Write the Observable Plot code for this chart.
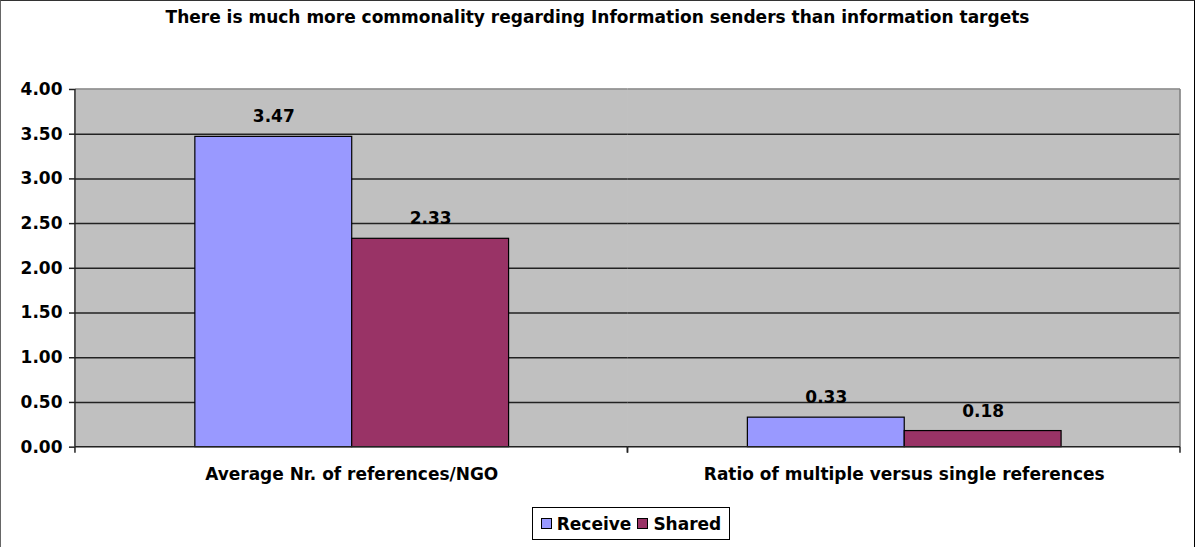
<!DOCTYPE html>
<html>
<head>
<meta charset="utf-8">
<script src="https://cdn.jsdelivr.net/npm/d3@7"></script>
<script src="https://cdn.jsdelivr.net/npm/@observablehq/plot@0.6"></script>
<style>
  html, body { margin: 0; padding: 0; background: #fff; }
  #chart {
    position: relative; width: 1195px; height: 547px; box-sizing: border-box;
    border-top: 1px solid #333; border-left: 1px solid #666; border-right: 1px solid #000;
    font-family: "DejaVu Sans", Verdana, sans-serif; font-weight: bold;
  }
  #title { position: absolute; top: 6px; left: 0; width: 1193px; text-align: center; font-size: 17px; color: #000; }
  #plot { position: absolute; top: 59px; left: -1px; }
  #legend {
    position: absolute; left: 531px; top: 506px; width: 198px; height: 33px; box-sizing: border-box;
    border: 1px solid #000; display: flex; align-items: center; justify-content: center; gap: 6px; font-size: 17px;
  }
  #legend .item { display: flex; align-items: center; gap: 5px; }
  #legend .sw { width: 9px; height: 9px; border: 1px solid #000; }
</style>
</head>
<body>
<div id="chart">
  <div id="title"></div>
  <div id="plot"></div>
  <div id="legend"></div>
</div>
<script>
const title = "There is much more commonality regarding Information senders than information targets";
const categories = ["Average Nr. of references/NGO", "Ratio of multiple versus single references"];
const seriesNames = ["Receive", "Shared"];
const receiveValues = [3.47, 0.33];
const sharedValues = [2.33, 0.18];
const yTicks = [0, 0.5, 1, 1.5, 2, 2.5, 3, 3.5, 4];
const colors = ["#9999FF", "#993366"];

const rows = categories.flatMap((c, i) => [
  {category: c, series: seriesNames[0], value: receiveValues[i]},
  {category: c, series: seriesNames[1], value: sharedValues[i]}
]);

document.getElementById("title").textContent = title;

// Per-category frame pieces: top border, baseline, boundary ticks,
// the left axis line in the first panel and the right border in the last.
function panelLines(index, scales, values, dimensions) {
  const {height, marginTop, marginBottom} = dimensions;
  const [x0, x1] = scales.x.range();
  const bottom = height - marginBottom;
  const i = index[0];
  const g = d3.create("svg:g");
  const line = (xa, xb, ya, yb, color) => g.append("line")
    .attr("x1", xa).attr("x2", xb).attr("y1", ya).attr("y2", yb)
    .attr("stroke", color).attr("stroke-width", 1.5);
  line(x0, x1, marginTop, marginTop, "#808080");
  if (i === categories.length - 1) line(x1, x1, marginTop, bottom, "#808080");
  if (i === 0) line(x0, x0, marginTop, bottom, "#222");
  line(x0, x1, bottom, bottom, "#222");
  line(x0, x0, bottom, bottom + 6, "#222");
  line(x1, x1, bottom, bottom + 6, "#222");
  return g.node();
}

const plot = Plot.plot({
  width: 1195,
  height: 430,
  marginLeft: 75,
  marginRight: 14,
  marginTop: 29,
  marginBottom: 43,
  style: {fontFamily: "'DejaVu Sans', Verdana, sans-serif", fontWeight: "bold", fontSize: "17px", color: "#000", overflow: "visible"},
  fx: {domain: categories, padding: 0, label: null},
  x: {domain: seriesNames, paddingInner: 0, paddingOuter: 0.755, axis: null},
  y: {domain: [0, 4], label: null},
  color: {domain: seriesNames, range: colors},
  marks: [
    Plot.frame({fill: "#C0C0C0", stroke: "none"}),
    Plot.gridY(yTicks.slice(1, -1), {stroke: "#222", strokeOpacity: 1, strokeWidth: 1.5}),
    Plot.axisY(yTicks, {tickFormat: d3.format(".2f"), tickSize: 6, tickPadding: 7, stroke: "#222", strokeWidth: 1.5, fontSize: 17, fontWeight: "bold"}),
    Plot.axisFx({anchor: "bottom", tickSize: 0, tickPadding: 21, fontSize: 17, fontWeight: "bold", label: null}),
    Plot.barY(rows, {fx: "category", x: "series", y: "value", fill: "series", stroke: "#000", strokeWidth: 1.2}),
    Plot.text(rows, {fx: "category", x: "series", y: "value", text: d => d3.format(".2f")(d.value), dy: -20, fontSize: 17, fontWeight: "bold", fill: "#000"}),
    Plot.ruleY(categories, {fx: d => d, y: 0, render: panelLines})
  ]
});
document.getElementById("plot").appendChild(plot);

const legend = d3.select("#legend");
seriesNames.forEach((s, i) => {
  const item = legend.append("div").attr("class", "item");
  item.append("div").attr("class", "sw").style("background", colors[i]);
  item.append("span").text(s);
});
</script>
</body>
</html>
